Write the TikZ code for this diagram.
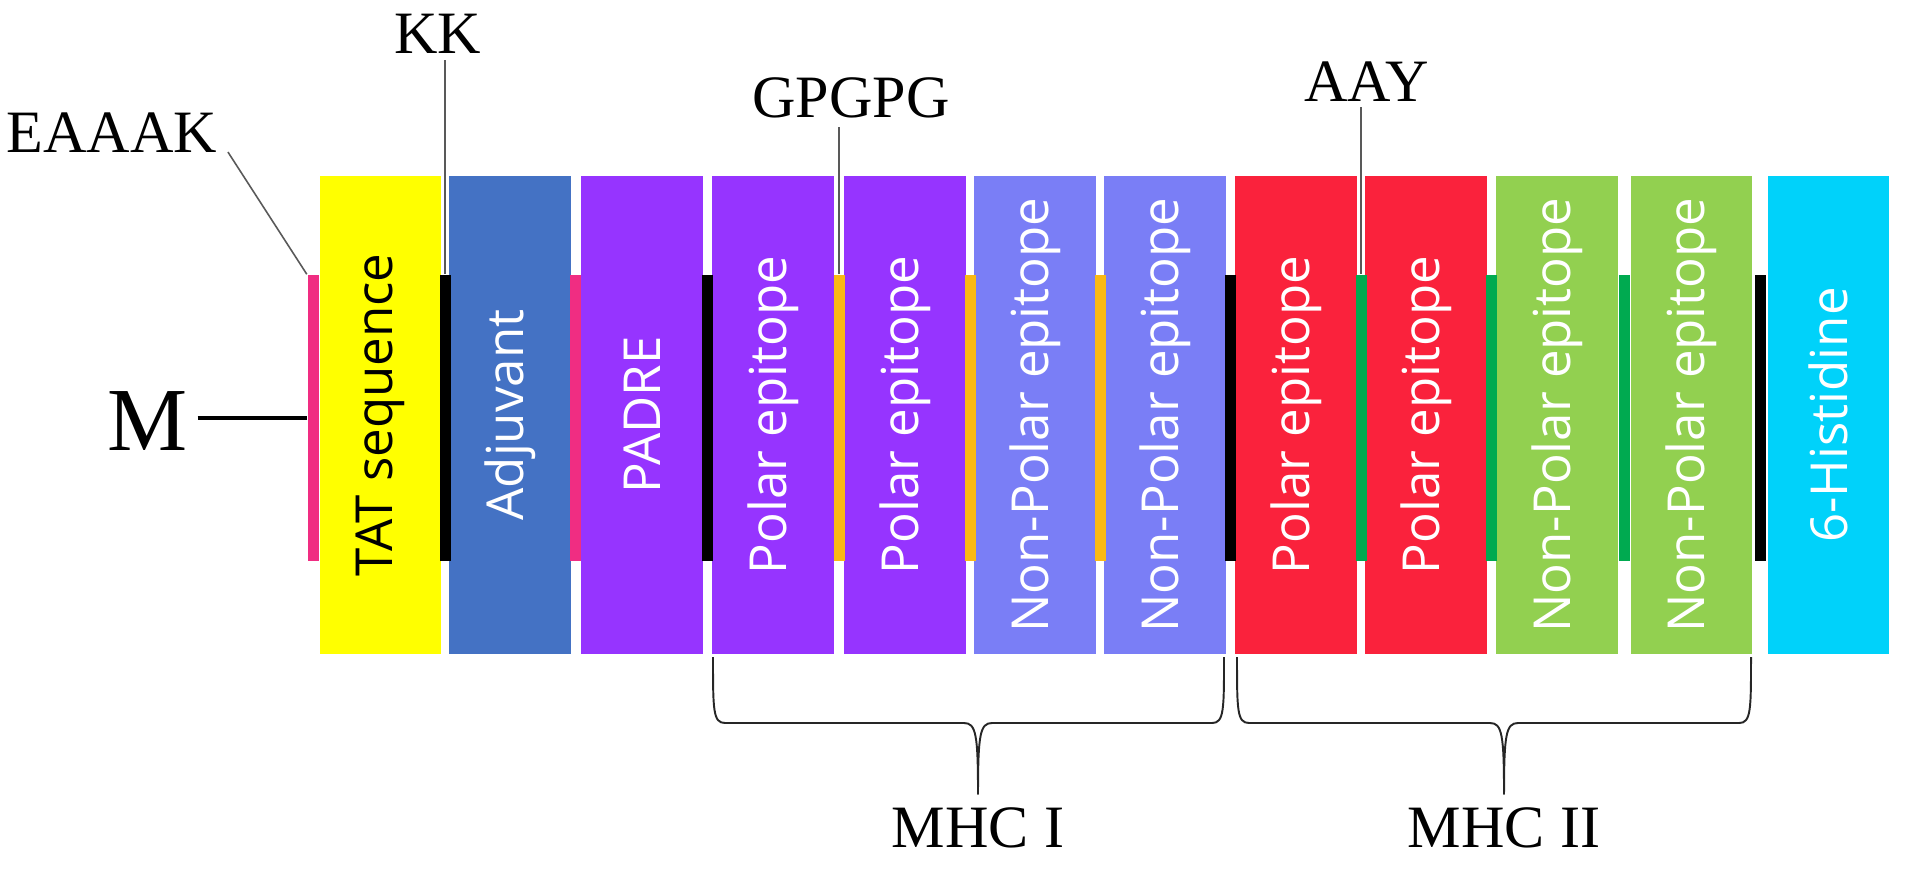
\documentclass[tikz,border=0pt]{standalone}
\usepackage{fontspec}
\setmainfont{Liberation Serif}
\newfontfamily\barfont{Open Sans}
\usetikzlibrary{positioning,calc}

\definecolor{tatyellow}{RGB}{255,255,0}
\definecolor{adjblue}{RGB}{68,114,196}
\definecolor{padrepurple}{RGB}{150,52,255}
\definecolor{npblue}{RGB}{122,126,246}
\definecolor{polred}{RGB}{250,34,60}
\definecolor{npgreen}{RGB}{146,208,80}
\definecolor{hiscyan}{RGB}{0,210,250}
\definecolor{linkpink}{RGB}{240,45,130}
\definecolor{linkorange}{RGB}{250,185,20}
\definecolor{linkgreen}{RGB}{0,170,80}

\tikzset{
  segbox/.style={rotate=90, minimum width=4.78cm, minimum height=1.21cm, inner sep=0pt,
    text=white, font=\barfont\fontsize{14.5}{16}\selectfont},
  linkbox/.style={minimum width=0.11cm, minimum height=2.86cm, inner sep=0pt},
  tag/.style={inner sep=0pt, anchor=base, font=\fontsize{17.1}{20}\selectfont},
  leader/.style={draw=black!65, line width=0.45pt},
  brc/.style={draw=black!85, line width=0.55pt}
}

\begin{document}
\begin{tikzpicture}[x=0.01cm, y=-0.01cm]
	\useasboundingbox (0,0) rectangle (1913,869);
	% segments of the construct
	\node[segbox, fill=tatyellow, text=black] (tat) at (380.5,415) {TAT sequence};
	\node[segbox, fill=adjblue] (adj) at (510,415) {Adjuvant};
	\node[segbox, fill=padrepurple] (padre) at (642,415) {PADRE};
	\node[segbox, fill=padrepurple] (pol1) at (773,415) {Polar epitope};
	\node[segbox, fill=padrepurple] (pol2) at (905,415) {Polar epitope};
	\node[segbox, fill=npblue] (np1) at (1035,415) {Non-Polar epitope};
	\node[segbox, fill=npblue] (np2) at (1165,415) {Non-Polar epitope};
	\node[segbox, fill=polred] (pol3) at (1296,415) {Polar epitope};
	\node[segbox, fill=polred] (pol4) at (1426,415) {Polar epitope};
	\node[segbox, fill=npgreen] (np3) at (1557,415) {Non-Polar epitope};
	\node[segbox, fill=npgreen] (np4) at (1691.5,415) {Non-Polar epitope};
	\node[segbox, fill=hiscyan] (his) at (1828.5,415) {6-Histidine};
	% linkers
	\node[linkbox, fill=linkpink] (l0) at (313,418) {};
	\node[linkbox, fill=black] (l1) at (445,418) {};
	\node[linkbox, fill=linkpink] (l2) at (575.5,418) {};
	\node[linkbox, fill=black] (l3) at (707.5,418) {};
	\node[linkbox, fill=linkorange] (l4) at (839,418) {};
	\node[linkbox, fill=linkorange] (l5) at (970,418) {};
	\node[linkbox, fill=linkorange] (l6) at (1100,418) {};
	\node[linkbox, fill=black] (l7) at (1230.5,418) {};
	\node[linkbox, fill=linkgreen] (l8) at (1361,418) {};
	\node[linkbox, fill=linkgreen] (l9) at (1491,418) {};
	\node[linkbox, fill=linkgreen] (l10) at (1624.5,418) {};
	\node[linkbox, fill=black] (l11) at (1760,418) {};
	% linker names
	\node[tag] (eaaak) at (112,152) {EAAAK};
	\node[tag] (kk) at (437.5,53) {KK};
	\node[tag] (gpgpg) at (851,117) {GPGPG};
	\node[tag] (aay) at (1366.5,101) {AAY};
	\draw[leader] ([xshift=0.1cm]eaaak.base east) -- (l0.north west);
	\draw[leader, shorten >=0.07cm] (l1.north) -- (l1.north |- kk.base);
	\draw[leader, shorten >=0.1cm] (l4.north) -- (l4.north |- gpgpg.base);
	\draw[leader, shorten >=0.06cm] (l8.north) -- (l8.north |- aay.base);
	% start
	\node[tag, font=\fontsize{25.6}{28}\selectfont, inner xsep=0.09cm] (m) at (148,450) {M};
	\draw[line width=1.4pt] (m.east |- l0.west) -- (l0.west);
	% MHC braces
	\node[tag] (mhc1) at (978,847) {MHC I};
	\node[tag] (mhc2) at (1504,847) {MHC II};
	\coordinate (t1) at ([yshift=0.12cm]mhc1.north);
	\coordinate (t2) at ([yshift=0.12cm]mhc2.north);
	\draw[brc] (713,657) .. controls +(0,53) and +(-12,0) .. (725,723) -- (964,723) .. controls +(12,0) and +(0,-60) .. (t1);
	\draw[brc] (1224,657) .. controls +(0,53) and +(12,0) .. (1212,723) -- (992,723) .. controls +(-12,0) and +(0,-60) .. (t1);
	\draw[brc] (1237,657) .. controls +(0,53) and +(-12,0) .. (1249,723) -- (1490,723) .. controls +(12,0) and +(0,-60) .. (t2);
	\draw[brc] (1751,657) .. controls +(0,53) and +(12,0) .. (1739,723) -- (1518,723) .. controls +(-12,0) and +(0,-60) .. (t2);
\end{tikzpicture}
\end{document}
